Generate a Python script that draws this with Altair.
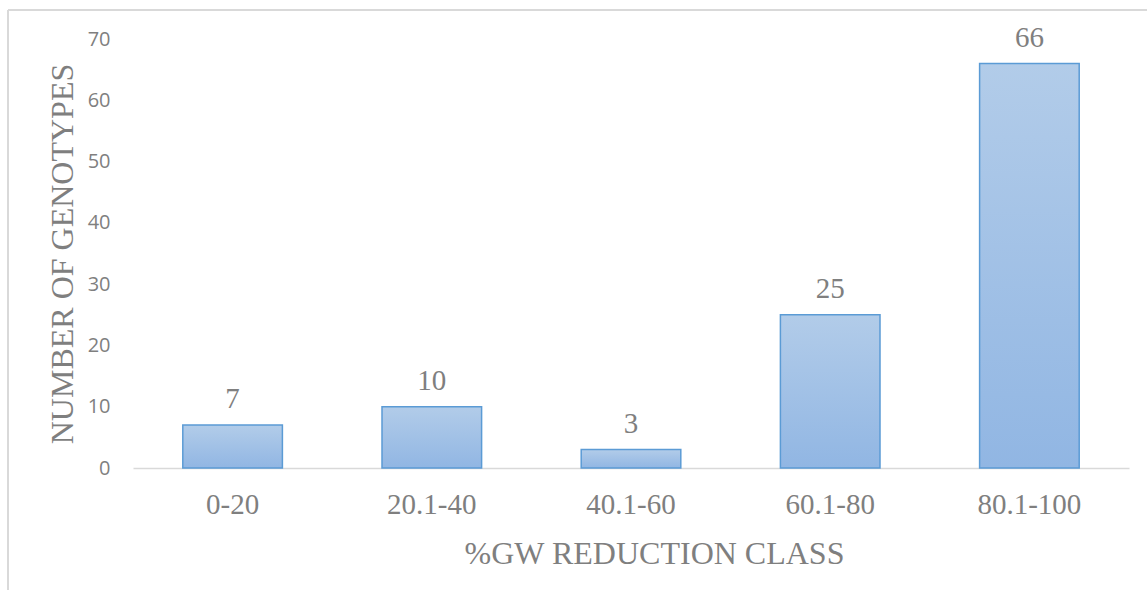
import altair as alt
import pandas as pd

# Genotype counts per grain-weight reduction class
classes = ["0-20", "20.1-40", "40.1-60", "60.1-80", "80.1-100"]
counts = [7, 10, 3, 25, 66]

df = pd.DataFrame({"cls": classes, "n": counts})

W, H = 996, 429
PAD_L, PAD_T = 133, 39

fill = alt.Gradient(
    gradient="linear",
    stops=[
        alt.GradientStop(color="#b2cce9", offset=0),
        alt.GradientStop(color="#91b6e3", offset=1),
    ],
    x1=0, x2=0, y1=0, y2=1,
)

x_enc = alt.X(
    "cls:N",
    sort=classes,
    scale=alt.Scale(paddingInner=0.5, paddingOuter=0.25),
    axis=alt.Axis(
        title="%GW REDUCTION CLASS",
        titleFont="Liberation Serif",
        titleFontSize=32,
        titleFontWeight="normal",
        titleColor="#7f7f7f",
        titleX=521,
        titleY=95,
        titleBaseline="alphabetic",
        labelFont="Liberation Serif",
        labelFontSize=29,
        labelColor="#7f7f7f",
        labelBaseline="alphabetic",
        labelPadding=45,
        labelAngle=0,
        ticks=False,
        tickSize=0,
        domainColor="#d9d9d9",
        domainWidth=1.5,
        grid=False,
    ),
)

y_enc = alt.Y(
    "n:Q",
    scale=alt.Scale(domain=[0, 70], nice=False),
    axis=alt.Axis(
        title="NUMBER OF GENOTYPES",
        titleFont="Liberation Serif",
        titleFontSize=32,
        titleFontWeight="normal",
        titleColor="#7f7f7f",
        titleX=-61,
        titleY=H / 2,
        titleAngle=-90,
        titleBaseline="alphabetic",
        titleAlign="center",
        values=[0, 10, 20, 30, 40, 50, 60, 70],
        labelFont="Open Sans",
        labelFontSize=20,
        labelColor="#7f7f7f",
        labelPadding=23,
        ticks=False,
        tickSize=0,
        domain=False,
        grid=False,
    ),
)

bars = alt.Chart(df).mark_bar(
    color=fill, stroke="#5b9bd5", strokeWidth=1.5
).encode(x=x_enc, y=y_enc)

labels = alt.Chart(df).mark_text(
    font="Liberation Serif",
    fontSize=29,
    color="#7f7f7f",
    baseline="alphabetic",
    dy=-17,
).encode(x=alt.X("cls:N", sort=classes), y="n:Q", text="n:Q")

# light outer frame of the chart area
frame_left = alt.Chart(df).mark_rule(color="#d9d9d9", strokeWidth=1.5).encode(
    x=alt.value(8 - PAD_L), y=alt.value(10 - PAD_T), y2=alt.value(600 - PAD_T)
)
frame_top = alt.Chart(df).mark_rule(color="#d9d9d9", strokeWidth=1.5).encode(
    x=alt.value(8 - PAD_L), x2=alt.value(1160 - PAD_L), y=alt.value(10 - PAD_T)
)

chart = (
    alt.layer(frame_left, frame_top, bars, labels)
    .properties(
        width=W,
        height=H,
        background="white",
        autosize=alt.AutoSizeParams(type="none"),
        padding={"left": PAD_L, "top": PAD_T, "right": 1147 - PAD_L - W, "bottom": 590 - PAD_T - H},
    )
    .configure_view(stroke="transparent", strokeWidth=0)
)

chart.save("out.html", embed_options={"renderer": "svg", "actions": False})
